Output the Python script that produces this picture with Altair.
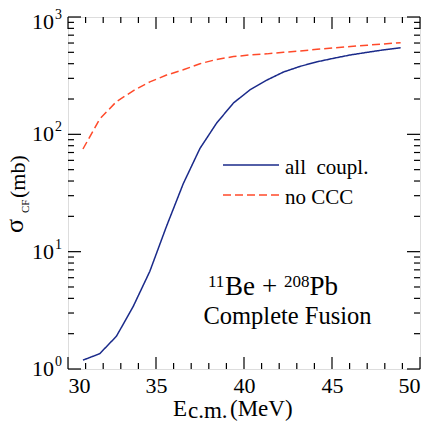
import altair as alt
import pandas as pd

# ---- data ----
energy = [30.85, 31.8, 32.75, 33.7, 34.65, 35.6, 36.55, 37.5, 38.45, 39.4,
          40.35, 41.3, 42.25, 43.2, 44.15, 45.1, 46.05, 47.0, 47.95, 48.9]
all_coupl = [1.19, 1.35, 1.9, 3.4, 6.8, 16.5, 38, 76, 125, 185,
             240, 290, 340, 380, 415, 445, 475, 500, 525, 547]
no_ccc = [75, 135, 190, 235, 280, 320, 355, 400, 435, 460,
          475, 485, 500, 513, 530, 545, 560, 575, 590, 604]
series_names = ["all coupl.", "no CCC"]
series_colors = ["#1a2a8a", "#ff4a2a"]

x_major = [30, 35, 40, 45, 50]
x_minor = [v for v in range(31, 50) if v % 5 != 0]
y_major = [1, 10, 100, 1000]
y_exp = ["0", "1", "2", "3"]
y_shift = [0, 0, 0, 5]
y_minor = [m * 10 ** k for k in range(3) for m in range(2, 10)]

W, H = 352, 352
FONT = "Liberation Serif"

rows = []
for e, a, n in zip(energy, all_coupl, no_ccc):
    rows.append({"E": e, "sigma": a, "series": series_names[0]})
    rows.append({"E": e, "sigma": n, "series": series_names[1]})
df = pd.DataFrame(rows)

xscale = alt.Scale(domain=[30, 50], nice=False, zero=False)
yscale = alt.Scale(type="log", domain=[1, 1000], nice=False)
xaxis = alt.Axis(values=x_major, format="d", ticks=False, domain=False, grid=False,
                 labelFont=FONT, labelFontSize=22, labelColor="black", labelPadding=6,
                 title=None)


def X(field):
    return alt.X(field, type="quantitative", scale=xscale, axis=xaxis)


def Y(field):
    return alt.Y(field, type="quantitative", scale=yscale, axis=None)


lines = alt.Chart(df).mark_line(strokeWidth=1.5, clip=True).encode(
    x=X("E"),
    y=Y("sigma"),
    color=alt.Color("series:N", scale=alt.Scale(domain=series_names, range=series_colors), legend=None),
    strokeDash=alt.StrokeDash("series:N", scale=alt.Scale(domain=series_names, range=[[1, 0], [8, 4]]), legend=None),
)

xmaj = pd.DataFrame({"v": x_major})
xmin = pd.DataFrame({"v": x_minor})
ymaj = pd.DataFrame({"v": y_major, "e": y_exp, "s": y_shift})
ymin = pd.DataFrame({"v": y_minor})

tick_style = dict(color="black", strokeWidth=1.2)
ticks = [
    alt.Chart(xmaj).mark_rule(**tick_style).encode(x=X("v"), y=alt.value(H), y2=alt.value(H - 12)),
    alt.Chart(xmaj).mark_rule(**tick_style).encode(x=X("v"), y=alt.value(0), y2=alt.value(12)),
    alt.Chart(xmin).mark_rule(**tick_style).encode(x=X("v"), y=alt.value(H), y2=alt.value(H - 6)),
    alt.Chart(xmin).mark_rule(**tick_style).encode(x=X("v"), y=alt.value(0), y2=alt.value(6)),
    alt.Chart(ymaj).mark_rule(**tick_style).encode(y=Y("v"), x=alt.value(0), x2=alt.value(13)),
    alt.Chart(ymaj).mark_rule(**tick_style).encode(y=Y("v"), x=alt.value(W), x2=alt.value(W - 13)),
    alt.Chart(ymin).mark_rule(**tick_style).encode(y=Y("v"), x=alt.value(0), x2=alt.value(6)),
    alt.Chart(ymin).mark_rule(**tick_style).encode(y=Y("v"), x=alt.value(W), x2=alt.value(W - 6)),
]

ylabels = []
for shift in sorted(set(y_shift)):
    sub = ymaj[ymaj["s"] == shift]
    ylabels.append(alt.Chart(sub).mark_text(font=FONT, fontSize=22, align="right", baseline="middle",
                                            dy=shift, color="black").encode(
        y=Y("v"), x=alt.value(-14), text=alt.value("10")))
    ylabels.append(alt.Chart(sub).mark_text(font=FONT, fontSize=14, align="left", baseline="middle",
                                            dx=1, dy=shift - 7, color="black").encode(
        y=Y("v"), x=alt.value(-14), text="e:N"))

one = pd.DataFrame({"a": [0]})


def label(text, x, y, size, align="left", angle=0, baseline="alphabetic"):
    kw = dict(font=FONT, fontSize=size, align=align, baseline=baseline, color="black", text=text)
    if angle:
        kw["angle"] = angle
    return alt.Chart(one).mark_text(**kw).encode(x=alt.value(x), y=alt.value(y))


texts = [
    # y title
    label("σ", -45, 216, 26, angle=270),
    label("CF", -39, 196, 11, angle=270),
    label("(mb)", -43, 181, 22, angle=270),
    # x title
    label("E", 105, 399, 23),
    label("c.m.", 120, 401, 23),
    label("(MeV)", 162, 399, 23),
    # legend
    label("all\u00a0\u00a0coupl.", 217, 157, 21),
    label("no CCC", 217, 187, 21),
    # annotation
    label("11", 140, 270, 17),
    label("Be", 157, 278, 27),
    label("+", 194, 278, 27),
    label("208", 216, 270, 17),
    label("Pb", 241.5, 278, 27),
    label("Complete Fusion", 219.5, 307, 24.5, align="center"),
]

legend_lines = [
    alt.Chart(one).mark_rule(color=series_colors[0], strokeWidth=1.5).encode(
        x=alt.value(155), x2=alt.value(211), y=alt.value(148)),
    alt.Chart(one).mark_rule(color=series_colors[1], strokeWidth=1.5, strokeDash=[8, 4]).encode(
        x=alt.value(155), x2=alt.value(211), y=alt.value(178)),
]

chart = alt.layer(lines, *ticks, *ylabels, *legend_lines, *texts).properties(
    width=W, height=H,
    autosize=alt.AutoSizeParams(type="none"),
    padding={"left": 60, "top": 9, "right": 8, "bottom": 54},
).configure_view(stroke="black", strokeWidth=1.5).configure(background="white")

chart.save("out.html", embed_options={"renderer": "svg", "actions": False})
